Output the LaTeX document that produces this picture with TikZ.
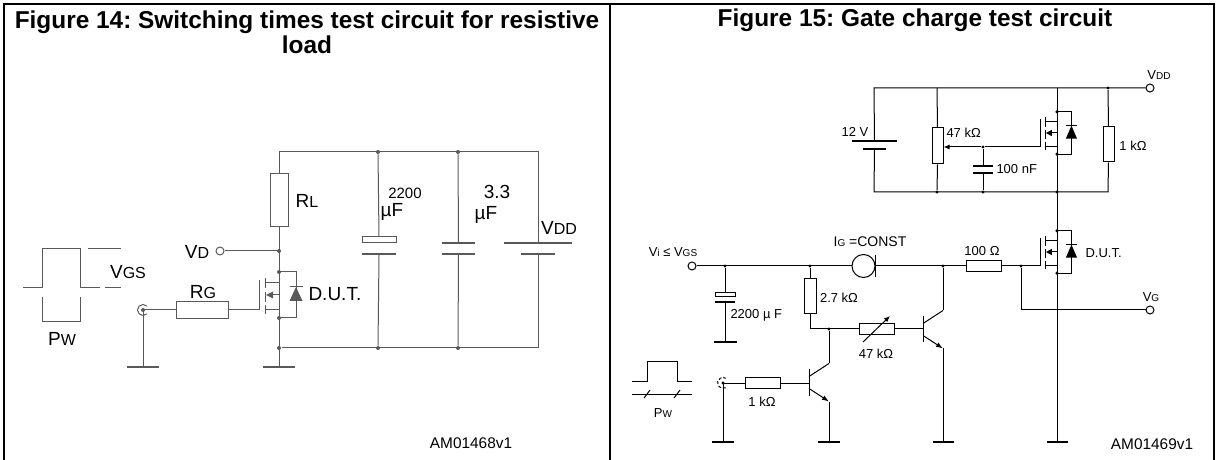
\documentclass[tikz,border=0pt]{standalone}
\usepackage{fontspec}
\setmainfont{Liberation Sans}
\usetikzlibrary{positioning,arrows.meta}
\frenchspacing

\begin{document}
\begin{tikzpicture}[%
    x=0.5pt, y=-0.5pt,
    line width=0.5pt,
    res/.style={draw, rectangle, inner sep=0pt, fill=white},
    plate/.style={fill, rectangle, inner sep=0pt, minimum height=0.6pt},
    elplate/.style={draw, rectangle, inner sep=0pt, minimum height=3pt, fill=white},
    term/.style={draw, circle, inner sep=0pt, minimum size=4pt, fill=white},
    dot/.style={circle, fill, inner sep=0pt, minimum size=2pt},
    lblL/.style={inner sep=0pt, font=\fontsize{9.5}{11}\selectfont},
    lblR/.style={inner sep=0pt, font=\fontsize{6.5}{7.5}\selectfont},
    title/.style={font=\bfseries\fontsize{12.2}{12.5}\selectfont, align=center},
    mos/.pic={
      \draw (-20,-15) -- (-20,15);
      \draw (-14,-17) -- (-14,-7) (-14,-3) -- (-14,7) (-14,10) -- (-14,19);
      \draw (-14,-12) -- (0,-12) (-14,15) -- (0,15) (-7,0) -- (0,0);
      \fill (-13,0) -- (-6,-3.5) -- (-6,3.5) -- cycle;
      \draw (0,-23) -- (0,23);
      \draw (0,-23) -- (17,-23) -- (17,23) -- (0,23);
      \fill (17,-8) -- (10.5,6) -- (23.5,6) -- cycle;
      \draw (10.5,-8) -- (23.5,-8);
      \fill (0,-23) circle (1pt) (0,23) circle (1pt);
    },
    npn/.pic={
      \draw (0,-13) -- (0,13);
      \draw (0,-6) -- (20,-19);
      \draw[-{Latex[length=3.5pt,width=2.5pt]}] (0,6) -- (20,19);
    }
  ]
  \useasboundingbox (0,0) rectangle (1223,460);

  % frame and titles
  \draw[line width=1pt] (4,460) -- (4,4) -- (1214,4) -- (1214,460) (610,4) -- (610,460);
  \node[title] (t14) at (307,32) {Figure 14: Switching times test circuit for resistive\\load};
  \node[title] (t15) at (915,20) {Figure 15: Gate charge test circuit};

  % Figure 14
  \begin{scope}[color=black!65]
    \coordinate (T1) at (279,152);
    \node[dot] (T2) at (378,152) {};
    \node[dot] (T3) at (458,152) {};
    \coordinate (T4) at (538,152);
    \node[dot] (B1) at (279,348) {};
    \node[dot] (B2) at (378,348) {};
    \node[dot] (B3) at (458,348) {};
    \coordinate (B4) at (538,348);
    \node[res, minimum width=9pt, minimum height=26.5pt] (RL) at (279,200.5) {};
    \node[dot] (jD) at (279,251) {};
    \node[term] (VD) at (220,251) {};
    \pic at (279,295) {mos};
    \coordinate (gate) at (259,310);
    \node[res, minimum width=26pt, minimum height=8.5pt] (RG) at (202,310) {};
    \coordinate (gin) at (143,310);
    \node[plate, minimum width=16pt, minimum height=0.9pt] (gnd1) at (143,367) {};
    \node[plate, minimum width=16pt, minimum height=0.9pt] (gnd2) at (279,367) {};
    \node[elplate, minimum width=17pt] (C1a) at (379,240) {};
    \node[plate, minimum width=17pt] (C1b) at (379,254) {};
    \node[plate, minimum width=16.5pt] (C2a) at (458.5,243) {};
    \node[plate, minimum width=16.5pt] (C2b) at (458.5,254) {};
    \node[plate, minimum width=34pt] (Ba) at (538,243) {};
    \node[plate, minimum width=17pt] (Bb) at (538,254) {};

    \draw (RL.north) -- (T1) -- (T4) -- (Ba.north);
    \draw (T2) -- (C1a.north) (C1b.south) -- (B2);
    \draw (T3) -- (C2a.north) (C2b.south) -- (B3);
    \draw (Bb.south) -- (B4) -- (B1);
    \draw (RL.south) -- (gnd2.north);
    \draw (VD) -- (jD);
    \draw (gin) -- (RG.west) (RG.east) -- (gate);
    \draw (gin) -- (gnd1.north);
    \draw (gin) ++(45:5.5) arc[start angle=45, end angle=315, radius=5.5];
    \fill (gin) circle (1pt);

    % pulse
    \draw (23,288) -- (42,288) -- (42,249) -- (80,249) -- (80,288) -- (100,288);
    \draw (105,288) -- (121,288) (88,249) -- (121,249);
    \draw (42,297) -- (42,322) -- (80,322) -- (80,297);
  \end{scope}

  \node[lblL] (lRL) at (307,201) {R{\footnotesize L}};
  \node[lblL] (lVD) at (197,252) {V{\footnotesize D}};
  \node[lblL] (lVGS) at (128,272) {V{\footnotesize GS}};
  \node[lblL] (lRG) at (203,292) {R{\footnotesize G}};
  \node[lblL] (lPW) at (62,339) {P{\footnotesize W}};
  \node[lblL, anchor=west] (lDUT) at (308,294) {D.U.T.};
  \node[inner sep=0pt, font=\fontsize{7.5}{8}\selectfont] (lC1v) at (405,193) {2200};
  \node[lblL] (lC1u) at (392,212) {µF};
  \node[lblL] (lC2v) at (497,192) {3.3};
  \node[lblL] (lC2u) at (486,215) {µF};
  \node[lblL] (lVDDa) at (559,228) {V{\footnotesize DD}};
  \node[inner sep=0pt, font=\fontsize{7.7}{9}\selectfont] (id14) at (471,443) {AM01468v1};

  % Figure 15, upper loop
  \coordinate (uT1) at (874,88);
  \coordinate (uT2) at (937,88);
  \coordinate (uT3) at (1057,88);
  \node[dot, minimum size=1.6pt] (uT4) at (1108,88) {};
  \node[term] (VDD) at (1150,88) {};
  \coordinate (uB1) at (874,192);
  \node[dot, minimum size=1.6pt] (uB2) at (937,192) {};
  \node[dot, minimum size=1.6pt] (uB3) at (983,192) {};
  \node[dot, minimum size=1.6pt] (uB4) at (1057,192) {};
  \coordinate (uB5) at (1108,192);
  \node[plate, minimum width=22.5pt] (B12a) at (874.5,141) {};
  \node[plate, minimum width=11.5pt] (B12b) at (874.5,149) {};
  \node[res, minimum width=5.5pt, minimum height=18pt] (P47) at (937.5,146) {};
  \node[dot, minimum size=1.6pt] (wip) at (983,147) {};
  \node[plate, minimum width=10pt] (C100a) at (983,166) {};
  \node[plate, minimum width=10pt] (C100b) at (983,173) {};
  \pic[xscale=0.85, yscale=0.92] at (1057,133) {mos};
  \coordinate (ugate) at (1040,147);
  \node[res, minimum width=5.5pt, minimum height=17.5pt] (R1k) at (1108.5,144.5) {};

  \draw (B12a.north) -- (uT1) -- (VDD);
  \draw (uT2) -- (P47.north) (P47.south) -- (uB2);
  \draw (B12b.south) -- (uB1) -- (uB5) -- (R1k.south);
  \draw (uT4) -- (R1k.north);
  \draw[-{Latex[length=3pt,width=2.5pt]}] (wip) -- (P47.east |- wip);
  \draw (wip) -- (ugate);
  \draw (wip) -- (C100a.north) (C100b.south) -- (uB3);

  % Figure 15, lower part
  \node[term] (Vi) at (692,266) {};
  \node[dot, minimum size=1.6pt] (n1) at (725,266) {};
  \node[dot, minimum size=1.6pt] (n2) at (810,266) {};
  \node[draw, circle, inner sep=0pt, minimum size=11.5pt] (IG) at (863.5,266) {};
  \node[dot, minimum size=1.6pt] (n3) at (943,266) {};
  \node[res, minimum width=17.5pt, minimum height=5.5pt] (R100) at (983.5,266) {};
  \node[dot, minimum size=1.6pt] (n4) at (1021,266) {};
  \pic[xscale=0.85, yscale=0.92] at (1057,252) {mos};
  \coordinate (dgate) at (1040,266);
  \coordinate (vgc) at (1021,310);
  \node[term] (VG) at (1150,310) {};
  \node[elplate, minimum width=10pt, minimum height=2pt] (C2200a) at (725,295) {};
  \node[plate, minimum width=10pt] (C2200b) at (725,302) {};
  \node[plate, minimum width=11.5pt] (gnd3) at (725,342) {};
  \node[res, minimum width=6pt, minimum height=17.5pt] (R27) at (810,296.5) {};
  \coordinate (k1) at (810,329);
  \node[dot, minimum size=1.6pt] (n5) at (829,329) {};
  \node[res, minimum width=17.5pt, minimum height=5.5pt] (R47) at (876.5,329) {};
  \pic at (923,329.5) {npn};
  \coordinate (b3) at (923,329);
  \coordinate (c3) at (943,310.5);
  \coordinate (e3) at (943,348.5);
  \pic at (809,382.5) {npn};
  \coordinate (b2) at (809,383);
  \coordinate (c2) at (829,363.5);
  \coordinate (e2) at (829,401.5);
  \coordinate (pin) at (723,383);
  \node[res, minimum width=17.5pt, minimum height=5.5pt] (R1kb) at (762.5,383) {};
  \node[plate, minimum width=11pt] (gnd6) at (723,442) {};
  \node[plate, minimum width=11pt] (gnd5) at (829,442) {};
  \node[plate, minimum width=10.5pt] (gnd4) at (943,442) {};
  \node[plate, minimum width=10.5pt] (gndD) at (1057,442) {};

  \draw (uT3) -- (gndD.north);
  \draw (Vi) -- (IG.west) (IG.east) -- (R100.west) (R100.east) -- (dgate);
  \draw (IG.east) ++(0,-11) -- ++(0,22);
  \draw (n1) -- (C2200a.north) (C2200b.south) -- (gnd3.north);
  \draw (n2) -- (R27.north) (R27.south) -- (k1) -- (R47.west) (R47.east) -- (b3);
  \draw[-{Latex[length=3pt,width=2.5pt]}] (R47.center) ++(-13.5,13) -- ++(27,-26);
  \draw (n3) -- (c3) (e3) -- (gnd4.north);
  \draw (n5) -- (c2) (e2) -- (gnd5.north);
  \draw (n4) -- (vgc) -- (VG);
  \draw (pin) -- (R1kb.west) (R1kb.east) -- (b2);
  \draw (pin) -- (gnd6.north);
  \draw[dashed, dash pattern=on 1.5pt off 1pt] (pin) ++(60:5.5) arc[start angle=60, end angle=300, radius=5.5];
  \fill (pin) circle (0.8pt);

  % pulse
  \draw (632,381) -- (647,381) -- (647,362) -- (677,362) -- (677,381) -- (692,381);
  \draw (632,394) -- (692,394);
  \draw (644,398) -- (650,390) (674,398) -- (680,390);

  \node[lblR] (lVDD) at (1159,75) {V{\tiny DD}};
  \node[lblR] (l12V) at (855,132) {12 V};
  \node[lblR, anchor=west] (lP47) at (946,133) {47 kΩ};
  \node[lblR, anchor=west] (lC100) at (996,169) {100 nF};
  \node[lblR] (lR1k) at (1133,146) {1 kΩ};
  \node[lblR, anchor=west] (lDUT2) at (1085,253) {D.U.T.};
  \node[lblR] (lVG) at (1151,297) {V{\tiny G}};
  \node[lblR] (lVi) at (673,252) {V{\tiny i} ≤ V{\tiny GS}};
  \node[lblR, font=\fontsize{7}{8}\selectfont] (lIG) at (870,242) {I{\tiny G} =CONST};
  \node[lblR] (lR100) at (982,251) {100 Ω};
  \node[lblR] (lR27) at (839,298) {2.7 kΩ};
  \node[lblR] (lR47) at (876,354) {47 kΩ};
  \node[lblR, anchor=west] (lC2200) at (730,315) {2200 µ F};
  \node[lblR] (lR1kb) at (762,402) {1 kΩ};
  \node[lblR] (lPW2) at (663,413) {P{\tiny W}};
  \node[inner sep=0pt, font=\fontsize{7.7}{9}\selectfont] (id15) at (1152,444) {AM01469v1};
\end{tikzpicture}
\end{document}
